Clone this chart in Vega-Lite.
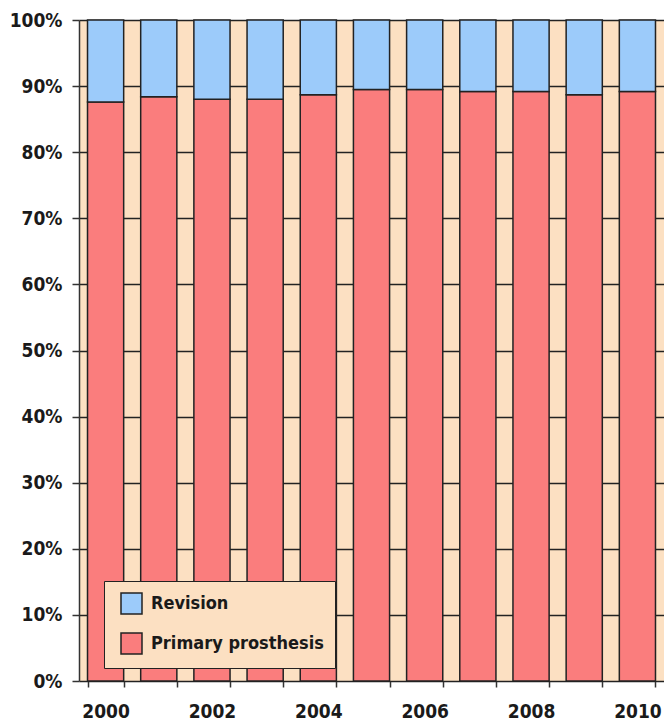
{
  "$schema": "https://vega.github.io/schema/vega-lite/v6.json",
  "autosize": "none",
  "width": 585,
  "height": 661,
  "padding": {"left": 79, "top": 20, "right": 0, "bottom": 43},
  "background": "white",
  "config": {
    "view": {"fill": "#FCE0C2", "stroke": null},
    "font": "DejaVu Sans Condensed, sans-serif"
  },
  "data": {
    "values": [
      {"year": 2000, "type": "Primary prosthesis", "pct": 87.6},
      {"year": 2000, "type": "Revision", "pct": 12.4},
      {"year": 2001, "type": "Primary prosthesis", "pct": 88.4},
      {"year": 2001, "type": "Revision", "pct": 11.6},
      {"year": 2002, "type": "Primary prosthesis", "pct": 88.0},
      {"year": 2002, "type": "Revision", "pct": 12.0},
      {"year": 2003, "type": "Primary prosthesis", "pct": 88.0},
      {"year": 2003, "type": "Revision", "pct": 12.0},
      {"year": 2004, "type": "Primary prosthesis", "pct": 88.7},
      {"year": 2004, "type": "Revision", "pct": 11.3},
      {"year": 2005, "type": "Primary prosthesis", "pct": 89.5},
      {"year": 2005, "type": "Revision", "pct": 10.5},
      {"year": 2006, "type": "Primary prosthesis", "pct": 89.5},
      {"year": 2006, "type": "Revision", "pct": 10.5},
      {"year": 2007, "type": "Primary prosthesis", "pct": 89.2},
      {"year": 2007, "type": "Revision", "pct": 10.8},
      {"year": 2008, "type": "Primary prosthesis", "pct": 89.2},
      {"year": 2008, "type": "Revision", "pct": 10.8},
      {"year": 2009, "type": "Primary prosthesis", "pct": 88.7},
      {"year": 2009, "type": "Revision", "pct": 11.3},
      {"year": 2010, "type": "Primary prosthesis", "pct": 89.2},
      {"year": 2010, "type": "Revision", "pct": 10.8}
    ]
  },
  "mark": {"type": "bar", "stroke": "#222222", "strokeWidth": 1.5},
  "encoding": {
    "x": {
      "field": "year",
      "type": "ordinal",
      "scale": {"paddingInner": 0.32, "paddingOuter": 0.16},
      "axis": {
        "title": null,
        "labelAngle": 0,
        "domain": false,
        "tickBand": "extent",
        "tickSize": 6,
        "tickWidth": 1.5,
        "tickColor": "#333333",
        "labelExpr": "datum.value % 2 == 0 ? datum.label : ''",
        "labelFont": "DejaVu Sans Condensed, sans-serif",
        "labelFontSize": 19,
        "labelFontWeight": "bold",
        "labelColor": "#1a1a1a",
        "labelPadding": 15
      }
    },
    "y": {
      "field": "pct",
      "type": "quantitative",
      "stack": "zero",
      "scale": {"domain": [0, 100], "nice": false},
      "axis": {
        "title": null,
        "values": [0, 10, 20, 30, 40, 50, 60, 70, 80, 90, 100],
        "labelExpr": "datum.value + '%'",
        "domain": true,
        "domainColor": "#333333",
        "domainWidth": 1.5,
        "tickSize": 7,
        "tickWidth": 1.5,
        "tickColor": "#333333",
        "grid": true,
        "gridColor": "#222222",
        "gridWidth": 1.5,
        "gridOpacity": 1,
        "labelFont": "DejaVu Sans Condensed, sans-serif",
        "labelFontSize": 19,
        "labelFontWeight": "bold",
        "labelColor": "#1a1a1a",
        "labelPadding": 10
      }
    },
    "color": {
      "field": "type",
      "type": "nominal",
      "scale": {
        "domain": ["Revision", "Primary prosthesis"],
        "range": ["#9CCBFA", "#FA7D7D"]
      },
      "legend": {
        "title": null,
        "orient": "none",
        "legendX": 25,
        "legendY": 561,
        "fillColor": "#FCE0C2",
        "strokeColor": "#222222",
        "padding": 11,
        "symbolType": "square",
        "symbolSize": 441,
        "symbolOffset": 5,
        "symbolStrokeColor": "#222222",
        "symbolStrokeWidth": 1.5,
        "symbolOpacity": 1,
        "labelFont": "DejaVu Sans Condensed, sans-serif",
        "labelFontSize": 18,
        "labelFontWeight": "bold",
        "labelColor": "#1a1a1a",
        "labelOffset": 8,
        "labelLimit": 0,
        "rowPadding": 13
      }
    },
    "order": {"field": "type", "sort": "ascending"}
  }
}
